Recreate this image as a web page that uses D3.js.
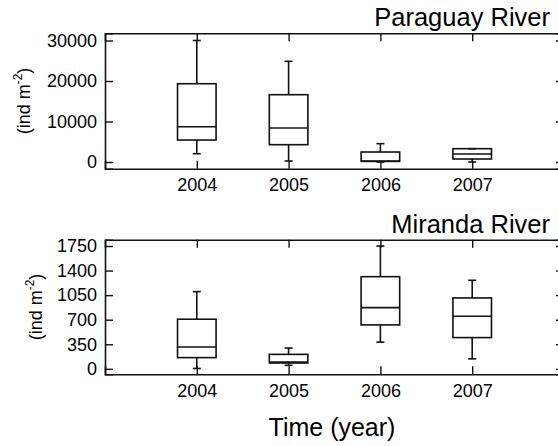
<!DOCTYPE html>
<html><head><meta charset="utf-8">
<script src="https://cdn.jsdelivr.net/npm/d3@7"></script>
<style>
body{margin:0;background:#fff;}
svg{display:block;}
text{font-family:"Liberation Sans",Arial,Helvetica,sans-serif;fill:#000;}
</style></head>
<body>
<script>
const years = [2004, 2005, 2006, 2007];
// [min, q1, median, q3, max]
const paraguay = [
  [2050, 5430, 8720, 19330, 30000],
  [250, 4280, 8400, 16620, 24860],
  [0, 150, 250, 2470, 4530],
  [0, 740, 1980, 3290, 3290]
];
const miranda = [
  [5, 160, 310, 707, 1100],
  [50, 83, 95, 206, 296],
  [380, 626, 872, 1313, 1750],
  [142, 445, 750, 1010, 1262]
];
const paraguayTicks = [0, 10000, 20000, 30000];
const mirandaTicks = [0, 350, 700, 1050, 1400, 1750];
const titles = ["Paraguay River", "Miranda River"];

const W = 558, H = 446;
const svg = d3.select("body").append("svg").attr("width", W).attr("height", H);
const stroke = "#111";

const x = d3.scaleLinear().domain([2003, 2008]).range([105, 564]);
const boxW = 0.42; // in years
const capW = 8;

const panels = [
  {title: titles[0], data: paraguay, ticks: paraguayTicks,
   y: d3.scaleLinear().domain([-1650, 31780]).range([168.7, 33.3]),
   titleY: 26, labelX: 30},
  {title: titles[1], data: miranda, ticks: mirandaTicks,
   y: d3.scaleLinear().domain([-78, 1840]).range([374.3, 239.7]),
   titleY: 232.5, labelX: 42}
];

panels.forEach(p => {
  const g = svg.append("g");
  const y = p.y;
  const [y0, y1] = y.range();
  const [x0, x1] = x.range();

  const left = g.append("g").attr("transform", `translate(${x0},0)`)
    .call(d3.axisLeft(y).tickValues(p.ticks).tickSize(-8).tickPadding(16).tickFormat(d3.format("d")));
  const right = g.append("g").attr("transform", `translate(${x1},0)`)
    .call(d3.axisRight(y).tickValues(p.ticks).tickSize(-8).tickFormat(""));
  const bottom = g.append("g").attr("transform", `translate(0,${y0})`)
    .call(d3.axisBottom(x).tickValues(years).tickSize(-8).tickPadding(16).tickFormat(d3.format("d")));
  const top = g.append("g").attr("transform", `translate(0,${y1})`)
    .call(d3.axisTop(x).tickValues(years).tickSize(-8).tickFormat(""));
  [left, right, bottom, top].forEach(a => {
    a.select(".domain").attr("stroke", stroke).attr("stroke-width", 1.6);
    a.selectAll(".tick line").attr("stroke", stroke).attr("stroke-width", 1.4);
    a.selectAll("text").attr("font-size", 18).attr("fill", "#000")
      .attr("font-family", '"Liberation Sans",Arial,sans-serif');
  });
  left.selectAll(".tick text").attr("x", -8);
  bottom.selectAll(".tick text").attr("y", 10);

  p.data.forEach((d, i) => {
    const cx = x(years[i]);
    const hw = (x(years[i] + boxW / 2) - x(years[i]));
    const [mn, q1, md, q3, mx] = d;
    const bg = g.append("g").attr("stroke", stroke).attr("stroke-width", 1.6).attr("fill", "none");
    bg.append("line").attr("x1", cx).attr("x2", cx).attr("y1", y(mx)).attr("y2", y(q3));
    bg.append("line").attr("x1", cx).attr("x2", cx).attr("y1", y(q1)).attr("y2", y(mn));
    bg.append("line").attr("x1", cx - capW / 2).attr("x2", cx + capW / 2).attr("y1", y(mx)).attr("y2", y(mx));
    bg.append("line").attr("x1", cx - capW / 2).attr("x2", cx + capW / 2).attr("y1", y(mn)).attr("y2", y(mn));
    bg.append("rect").attr("x", cx - hw).attr("width", 2 * hw)
      .attr("y", y(q3)).attr("height", y(q1) - y(q3));
    bg.append("line").attr("x1", cx - hw).attr("x2", cx + hw).attr("y1", y(md)).attr("y2", y(md));
  });

  g.append("text").attr("x", 550).attr("y", p.titleY).attr("text-anchor", "end")
    .attr("font-size", 25.5).text(p.title);

  const lab = g.append("text")
    .attr("transform", `translate(${p.labelX},${(y0 + y1) / 2}) rotate(-90)`)
    .attr("text-anchor", "middle").attr("font-size", 18);
  lab.append("tspan").text("(ind m");
  lab.append("tspan").attr("font-size", 12).attr("dy", -8).text("-2");
  lab.append("tspan").attr("dy", 8).text(")");
});

svg.append("text").attr("x", 332).attr("y", 436).attr("text-anchor", "middle")
  .attr("font-size", 25).text("Time (year)");
</script>
</body></html>
